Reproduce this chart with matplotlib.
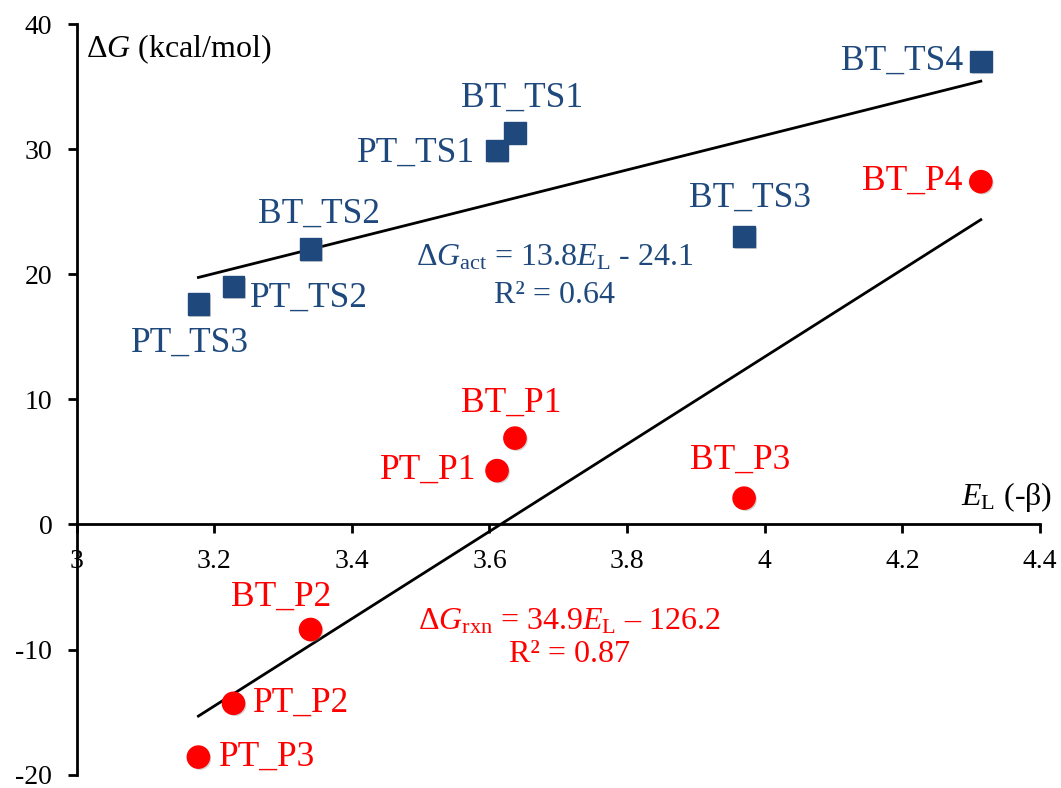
import numpy as np
import matplotlib
matplotlib.use("Agg")
import matplotlib.pyplot as plt
import matplotlib.patheffects as pe
from matplotlib.ticker import FuncFormatter, MultipleLocator

plt.rcParams['font.family'] = ['Liberation Serif', 'DejaVu Serif']
plt.rcParams['mathtext.fontset'] = 'custom'
plt.rcParams['mathtext.rm'] = 'Liberation Serif'
plt.rcParams['mathtext.it'] = 'Liberation Serif:italic'

# E_L (-beta) for each species
ts_names = ["PT_TS3", "PT_TS2", "BT_TS2", "PT_TS1", "BT_TS1", "BT_TS3", "BT_TS4"]
ts_x = [3.177, 3.228, 3.340, 3.611, 3.637, 3.970, 4.314]
ts_y = [17.6, 19.0, 22.0, 29.9, 31.3, 23.0, 37.0]

p_names = ["PT_P3", "PT_P2", "BT_P2", "PT_P1", "BT_P1", "BT_P3", "BT_P4"]
p_x = [3.177, 3.228, 3.340, 3.611, 3.637, 3.970, 4.314]
p_y = [-18.6, -14.3, -8.4, 4.3, 6.9, 2.1, 27.4]

# linear fits given in the chart
act_fit = (13.8, -24.1)
rxn_fit = (34.9, -126.2)

BLUE = '#1F497D'
RED = '#FF0000'

# label offsets in points (dx, dy, ha)
ts_offsets = [(-6, -28, 'center'), (12, -8, 'left'), (6, 25, 'center'), (-16, -2, 'right'),
              (5, 25, 'center'), (4, 28, 'center'), (-13, 0, 'right')]
p_offsets = [(15, 0, 'left'), (14, 0, 'left'), (-21, 23, 'center'), (-15, 0, 'right'),
             (-3, 25, 'center'), (-3, 27, 'center'), (-13, 0, 'right')]

fig = plt.figure(figsize=(10.61, 7.88), dpi=100)
ax = fig.add_axes([0.0722, 0.017, 0.908, 0.9525])

shadow = [pe.SimplePatchShadow(offset=(1.2, -1.2), shadow_rgbFace='gray', alpha=0.35), pe.Normal()]

# trend lines
xs = np.array([min(ts_x), max(ts_x)])
ax.plot(xs, act_fit[0] * xs + act_fit[1], color='black', lw=2, zorder=2)
xs = np.array([min(p_x), max(p_x)])
ax.plot(xs, rxn_fit[0] * xs + rxn_fit[1], color='black', lw=2, zorder=2)

ax.plot(ts_x, ts_y, 's', color=BLUE, ms=15.5, ls='none', zorder=3, path_effects=shadow)
ax.plot(p_x, p_y, 'o', color=RED, ms=16, ls='none', zorder=3, path_effects=shadow)

for name, x, y, (dx, dy, ha) in zip(ts_names, ts_x, ts_y, ts_offsets):
    ax.annotate(name, (x, y), xytext=(dx, dy), textcoords='offset points',
                ha=ha, va='center', fontsize=25.5, color=BLUE)
for name, x, y, (dx, dy, ha) in zip(p_names, p_x, p_y, p_offsets):
    ax.annotate(name, (x, y), xytext=(dx, dy), textcoords='offset points',
                ha=ha, va='center', fontsize=25.5, color=RED)

# equations
ax.text(3.695, 21.3, r'Δ$G_{\rm act}$ = 13.8$E_{\rm L}$ - 24.1', ha='center', va='center',
        fontsize=23, color=BLUE)
ax.text(3.695, 18.3, 'R² = 0.64', ha='center', va='center', fontsize=23, color=BLUE)
ax.text(3.716, -7.8, r'Δ$G_{\rm rxn}$ = 34.9$E_{\rm L}$ – 126.2', ha='center', va='center',
        fontsize=23, color=RED)
ax.text(3.716, -10.4, 'R² = 0.87', ha='center', va='center', fontsize=23, color=RED)

# axis titles
ax.text(3.013, 38.0, r'Δ$G$ (kcal/mol)', ha='left', va='center', fontsize=23)
ax.text(4.418, 2.2, r'$E_{\rm L}$ (-β)', ha='right', va='center', fontsize=23)

ax.set_xlim(3, 4.4)
ax.set_ylim(-20, 40)
ax.xaxis.set_major_locator(MultipleLocator(0.2))
ax.yaxis.set_major_locator(MultipleLocator(10))
ax.xaxis.set_major_formatter(FuncFormatter(lambda v, p: f'{v:g}'))
ax.yaxis.set_major_formatter(FuncFormatter(lambda v, p: f'{v:g}'))

ax.spines['top'].set_visible(False)
ax.spines['right'].set_visible(False)
ax.spines['bottom'].set_position(('data', 0))
for s in ('left', 'bottom'):
    ax.spines[s].set_linewidth(2)
ax.tick_params(axis='both', direction='out', length=6.5, width=2, labelsize=20, pad=11)
ax.set_facecolor('none')

fig.savefig('out.png', dpi=100)
